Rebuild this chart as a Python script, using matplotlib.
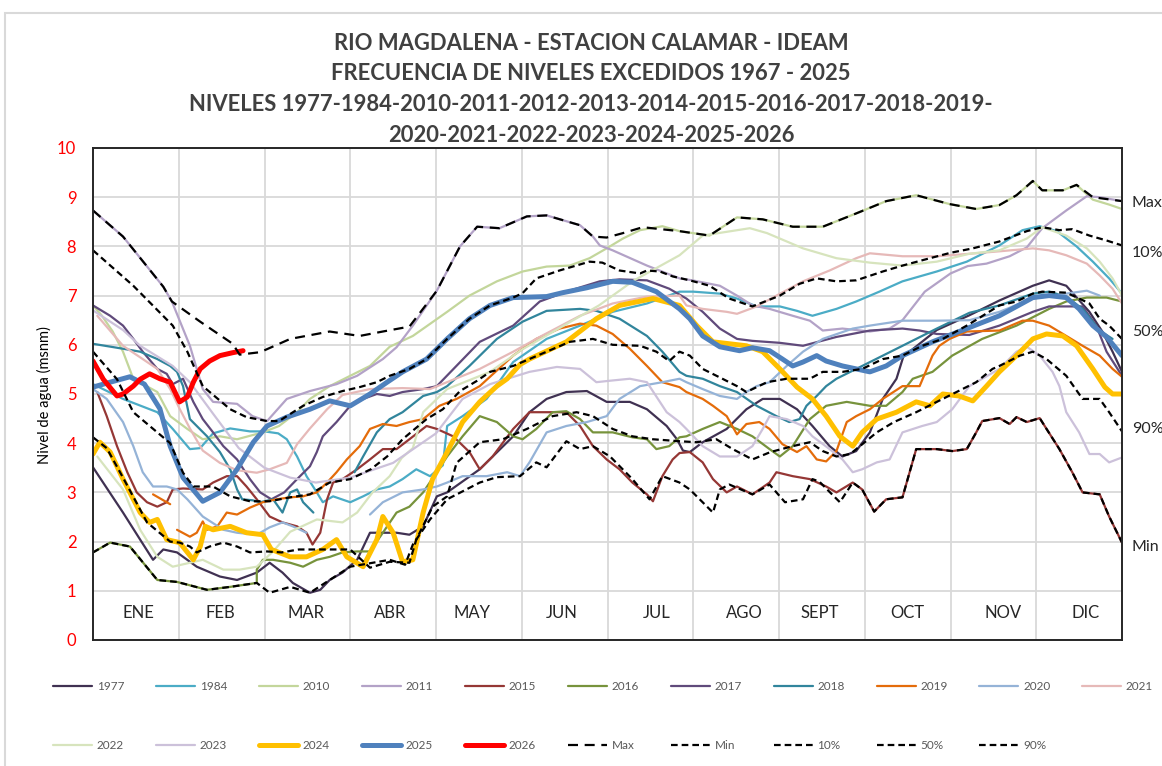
import numpy as np
import matplotlib
matplotlib.use('Agg')
import matplotlib.pyplot as plt
from matplotlib.patches import Rectangle

plt.rcParams['font.family'] = ['Lato', 'DejaVu Sans']

# x = position in months (0 = 1 Jan, 12 = 31 Dec), y = nivel (msnm); None = hueco
s1977 = [(0.0,3.51),(0.35,2.59),(0.55,2.04),(0.70,1.63),(0.82,1.84),(0.98,1.78),(1.21,1.49),(1.48,1.29),
         (1.68,1.22),(1.91,1.37),(2.06,1.57),(2.21,1.37),(2.33,1.16),(2.53,0.96),(2.65,1.02),(2.76,1.22),(2.91,1.37),
         (3.08,1.63),(3.23,2.18),(3.54,2.18),(3.69,2.14),(3.85,2.31),(4.01,2.92),(4.13,3.0),(4.51,3.47),(4.90,4.14),
         (5.09,4.63),(5.29,4.9),(5.52,5.04),(5.76,5.06),(5.99,4.84),(6.26,4.84),(6.46,4.69),(6.69,4.35),(6.81,4.08),
         (6.88,3.85),(6.96,3.82),(7.11,4.02),(7.39,4.29),(7.62,4.69),(7.81,4.9),(8.01,4.9),(8.21,4.69),(8.39,4.35),
         (8.59,3.94),(8.74,3.73),(8.90,3.84),(9.06,4.22),(9.21,4.9),(9.37,5.31),(9.45,5.76),(9.84,6.3),(10.22,6.6),
         (10.57,6.9),(10.96,7.2),(11.15,7.31),(11.35,7.2),(11.62,6.67),(11.77,6.27),(11.89,5.86),(12.0,5.45)]
s1984 = [(0.0,5.2),(0.35,4.9),(0.75,4.63),(0.93,4.29),(1.13,3.88),(1.25,3.9),(1.40,4.2),(1.60,4.3),(1.83,4.24),
         (2.00,4.24),(2.16,4.2),(2.26,4.08),(2.38,3.73),(2.49,3.33),(2.61,3.0),(2.68,2.8),(2.80,2.92),(3.0,2.8),
         (3.15,2.92),(3.31,3.06),(3.46,3.12),(3.61,3.27),(3.77,3.47),(3.93,3.33),(4.08,3.55),(4.13,4.35),(4.31,4.55),
         (4.59,4.9),(4.70,5.16),(4.90,5.65),(5.29,6.12),(5.68,6.39),(6.06,6.67),(6.46,6.84),(6.84,7.08),(7.00,7.08),
         (7.31,7.04),(7.51,6.94),(7.74,6.78),(8.01,6.78),(8.21,6.69),(8.39,6.59),(8.67,6.73),(8.90,6.88),(9.17,7.08),
         (9.44,7.29),(9.84,7.49),(10.19,7.69),(10.57,8.02),(10.84,8.33),(11.04,8.41),(11.24,8.31),(11.47,8.0),
         (11.66,7.69),(11.85,7.35),(12.0,7.04)]
s2010 = [(0.0,6.8),(0.1,6.6),(0.23,6.27),(0.35,5.86),(0.47,5.31),(0.75,5.04),(0.90,4.55),(1.10,4.29),(1.28,4.08),
         (1.48,4.14),(1.68,4.08),(1.98,4.22),(2.17,4.35),(2.38,4.63),(2.53,4.9),(2.76,5.16),(3.0,5.37),(3.23,5.57),
         (3.46,5.96),(3.73,6.18),(4.13,6.67),(4.39,7.0),(4.71,7.29),(5.01,7.49),(5.29,7.59),(5.56,7.61),(5.79,7.76),
         (5.99,7.96),(6.18,8.16),(6.38,8.33),(6.64,8.41),(6.84,8.31),(7.19,8.22),(7.51,8.59),(7.81,8.55),(8.16,8.4),
         (8.51,8.4),(8.90,8.67),(9.25,8.92),(9.60,9.04),(9.99,8.86),(10.30,8.76),(10.57,8.84),(10.77,9.04),
         (10.96,9.33),(11.07,9.14),(11.31,9.14),(11.47,9.25),(11.66,8.95),(11.85,8.85),(12.0,8.76)]
s2011 = [(0.0,8.73),(0.35,8.2),(0.82,7.18),(0.92,6.88),(1.13,5.98),(1.28,5.1),(1.40,4.84),(1.68,4.8),(1.86,4.55),
         (2.03,4.45),(2.26,4.9),(2.53,5.06),(2.84,5.2),(3.08,5.37),(3.38,5.71),(3.54,5.95),(3.73,6.39),(4.01,7.1),
         (4.28,8.0),(4.48,8.4),(4.74,8.37),(5.06,8.61),(5.29,8.63),(5.68,8.43),(5.83,8.2),(5.91,8.02),(6.06,7.92),
         (6.46,7.61),(6.84,7.35),(6.99,7.31),(7.31,7.2),(7.51,7.0),(7.69,6.8),(7.89,6.73),(8.16,6.59),(8.36,6.49),
         (8.51,6.29),(8.74,6.33),(9.06,6.27),(9.29,6.33),(9.44,6.5),(9.7,7.08),(10.0,7.45),(10.2,7.6),(10.42,7.65),
         (10.69,7.8),(10.89,7.98),(11.07,8.37),(11.35,8.73),(11.59,9.02),(11.74,9.0),(12.0,8.92)]
s2015 = [(0.05,5.04),(0.16,4.55),(0.28,3.94),(0.40,3.41),(0.51,3.0),(0.63,2.8),(0.75,2.71),(0.86,2.8),(0.93,3.06),
         (1.05,3.08),(1.28,3.06),(1.40,3.2),(1.56,3.33),(1.68,3.33),(1.79,3.12),(1.91,2.86),(2.06,2.51),(2.21,2.39),
         (2.38,2.31),(2.49,2.18),(2.56,1.94),(2.65,2.18),(2.73,2.86),(2.80,3.2),(2.91,3.27),(3.08,3.47),(3.23,3.67),
         (3.38,3.88),(3.54,3.88),(3.69,4.08),(3.89,4.35),(4.01,4.29),(4.20,4.14),(4.39,3.82),(4.51,3.47),(4.66,3.73),
         (4.90,4.29),(5.09,4.63),(5.29,4.63),(5.52,4.63),(5.68,4.35),(5.83,3.94),(5.99,3.67),(6.14,3.47),(6.29,3.2),
         (6.46,2.96),(6.53,2.82),(6.64,3.33),(6.76,3.67),(6.84,3.8),(6.96,3.82),(7.11,3.61),(7.23,3.27),(7.39,3.0),
         (7.51,3.12),(7.69,2.96),(7.89,3.2),(7.97,3.41),(8.16,3.33),(8.36,3.27),(8.55,3.12),(8.67,3.0),(8.86,3.2),
         (8.97,3.06),(9.11,2.61),(9.25,2.86),(9.44,2.9),(9.60,3.88),(9.84,3.88),(10.02,3.84),(10.19,3.88),
         (10.30,4.22),(10.37,4.45),(10.57,4.51),(10.69,4.39),(10.77,4.53),(10.89,4.43),(11.04,4.51),(11.12,4.29),
         (11.27,3.88),(11.42,3.41),(11.54,3.0),(11.74,2.96),(11.85,2.51),(12.0,1.98)]
s2016 = [(0.0,1.78),(0.20,1.98),(0.43,1.9),(0.75,1.22),(0.98,1.18),(1.33,1.02),(1.60,1.08),(1.91,1.16),(1.91,1.43),
         (1.98,1.63),(2.10,1.63),(2.30,1.57),(2.45,1.49),(2.61,1.63),(2.76,1.69),(2.91,1.78),(3.08,1.8),(3.23,1.8),
         (3.38,2.18),(3.54,2.59),(3.69,2.71),(3.85,3.0),(4.13,3.73),(4.31,4.14),(4.51,4.55),(4.71,4.43),(4.90,4.14),
         (5.01,4.08),(5.17,4.29),(5.36,4.63),(5.52,4.65),(5.68,4.49),(5.83,4.22),(6.06,4.22),(6.29,4.12),(6.46,4.08),
         (6.57,3.88),(6.72,3.94),(6.84,4.12),(6.92,4.14),(7.11,4.29),(7.31,4.43),(7.51,4.29),(7.69,4.14),(7.89,3.88),
         (8.01,3.73),(8.16,3.94),(8.36,4.49),(8.55,4.76),(8.79,4.84),(9.06,4.76),(9.25,4.76),(9.44,5.04),(9.56,5.31),
         (9.79,5.45),(10.02,5.78),(10.37,6.12),(10.77,6.39),(11.15,6.73),(11.35,6.88),(11.59,6.96),(11.82,6.96),
         (12.0,6.88)]
s2017 = [(0.0,6.8),(0.20,6.59),(0.35,6.39),(0.47,6.12),(0.58,5.86),(0.75,5.51),(0.86,5.41),(0.93,5.2),(1.05,5.31),
         (1.17,4.84),(1.28,4.49),(1.40,4.22),(1.52,3.94),(1.68,3.67),(1.83,3.27),(1.95,3.0),(2.08,2.86),(2.23,3.0),
         (2.38,3.27),(2.53,3.53),(2.61,3.82),(2.68,4.14),(2.84,4.43),(3.0,4.76),(3.15,4.9),(3.31,5.0),(3.46,4.96),
         (3.61,5.04),(3.85,5.1),(4.01,5.16),(4.51,6.06),(4.90,6.39),(5.21,6.88),(5.52,7.08),(5.91,7.29),(6.14,7.33),
         (6.46,7.31),(6.72,7.14),(6.92,6.94),(7.11,6.67),(7.31,6.33),(7.51,6.12),(7.69,6.08),(8.01,6.04),(8.28,5.98),
         (8.67,6.16),(9.06,6.29),(9.44,6.33),(9.64,6.29),(9.84,6.22),(10.22,6.2),(10.57,6.39),(10.96,6.67),
         (11.15,6.78),(11.54,6.78),(11.70,6.39),(11.82,5.86),(12.0,5.37)]
s2018 = [(0.0,6.02),(0.35,5.92),(0.55,5.86),(0.75,5.71),(0.90,5.57),(0.98,5.45),(1.05,5.16),(1.13,4.49),(1.33,4.14),
         (1.48,3.82),(1.60,3.47),(1.68,3.06),(1.74,2.86),(1.86,2.84),(1.95,2.8),(2.10,2.86),(2.21,2.59),(2.30,3.0),
         (2.38,3.06),(2.45,2.8),(2.57,2.59), None,
         (3.05,3.41),(3.15,3.73),(3.31,4.22),(3.46,4.49),(3.61,4.63),(3.85,4.96),(4.01,5.04),(4.13,5.16),(4.39,5.57),
         (4.71,6.12),(5.01,6.47),(5.29,6.69),(5.68,6.73),(5.87,6.69),(6.14,6.53),(6.46,6.18),(6.64,5.86),(6.84,5.45),
         (6.92,5.37),(7.11,5.31),(7.31,5.16),(7.51,5.04),(7.74,4.76),(7.97,4.55),(8.12,4.43),(8.24,4.49),(8.32,4.76),
         (8.44,4.96),(8.55,5.16),(8.67,5.31),(8.97,5.57),(9.44,5.98),(9.84,6.33),(10.22,6.65),(10.57,6.8),
         (10.96,7.04),(11.15,7.08),(11.35,6.98),(11.54,6.73),(11.74,6.29),(11.89,6.12)]
s2019 = [(0.70,2.96),(0.90,2.76), None,
         (0.98,2.24),(1.13,2.1),(1.21,2.18),(1.28,2.41),(1.33,2.24),(1.45,2.31),(1.56,2.59),(1.68,2.55),(1.83,2.69),
         (1.98,2.8),(2.14,2.86),(2.30,2.9),(2.45,2.92),(2.61,3.0),(2.73,3.2),(2.84,3.41),(2.96,3.67),(3.11,3.94),
         (3.23,4.29),(3.38,4.39),(3.54,4.35),(3.69,4.43),(3.85,4.49),(4.04,4.76),(4.24,4.9),(4.51,5.16),(4.90,5.78),
         (5.17,6.12),(5.44,6.33),(5.68,6.43),(5.87,6.39),(6.06,6.22),(6.26,5.92),(6.46,5.57),(6.64,5.24),(6.84,5.14),
         (6.92,5.04),(7.11,4.9),(7.23,4.76),(7.39,4.55),(7.51,4.18),(7.62,4.39),(7.77,4.43),(7.89,4.29),(8.04,3.98),
         (8.21,3.82),(8.32,3.94),(8.44,3.67),(8.55,3.63),(8.67,3.84),(8.79,4.43),(8.90,4.55),(9.06,4.69),(9.21,4.9),
         (9.44,5.16),(9.64,5.16),(9.79,5.78),(9.87,5.98),(9.99,6.12),(10.19,6.27),(10.57,6.29),(10.84,6.49),
         (10.96,6.49),(11.15,6.39),(11.35,6.18),(11.54,5.98),(11.74,5.78),(11.89,5.51),(12.0,5.35)]
s2020 = [(0.0,5.1),(0.16,4.9),(0.35,4.43),(0.47,3.94),(0.58,3.41),(0.70,3.12),(0.86,3.12),(0.98,3.06),(1.10,2.86),
         (1.28,2.51),(1.52,2.24),(1.68,2.18),(1.91,2.14),(2.06,2.29),(2.21,2.39),(2.33,2.31),(2.49,2.18), None,
         (3.23,2.55),(3.38,2.8),(3.61,3.0),(3.85,3.06),(4.01,3.12),(4.13,3.2),(4.31,3.33),(4.59,3.33),(4.83,3.41),
         (4.98,3.33),(5.09,3.61),(5.29,4.22),(5.52,4.35),(5.76,4.43),(5.99,4.55),(6.14,4.9),(6.38,5.16),(6.64,5.24),
         (6.84,5.31),(6.92,5.24),(7.11,5.1),(7.31,4.96),(7.51,4.9),(7.62,5.04),(7.74,5.16),(7.89,5.24),(8.09,5.57),
         (8.28,5.86),(8.51,6.12),(8.86,6.33),(9.06,6.39),(9.44,6.49),(9.84,6.49),(10.22,6.5),(10.57,6.67),
         (10.96,6.94),(11.35,7.04),(11.59,7.1),(11.74,7.0)]
s2021 = [(0.05,6.59),(0.35,5.98),(0.58,5.71),(0.75,5.51),(0.90,5.1),(1.01,4.7),(1.13,4.3),(1.28,3.85),(1.48,3.6),
         (1.68,3.45),(1.91,3.4),(2.06,3.47),(2.26,3.6),(2.38,3.98),(2.53,4.3),(2.73,4.69),(2.91,4.98),(3.23,5.1),
         (3.61,5.12),(3.93,5.1),(4.51,5.51),(4.90,5.86),(5.21,6.16),(5.68,6.59),(6.06,6.84),(6.46,6.98),(6.84,7.0),
         (6.92,6.8),(7.11,6.73),(7.39,6.67),(7.51,6.63),(7.74,6.78),(7.97,7.0),(8.28,7.29),(8.59,7.51),(8.90,7.76),
         (9.06,7.86),(9.44,7.8),(9.84,7.8),(10.22,7.85),(10.57,7.9),(10.96,7.96),(11.15,7.92),(11.35,7.82),
         (11.59,7.65),(11.74,7.41),(11.89,7.14),(12.0,6.84)]
s2022 = [(0.05,3.73),(0.35,3.06),(0.55,2.24),(0.75,1.69),(0.93,1.49),(1.13,1.57),(1.28,1.63),(1.52,1.43),(1.71,1.43),
         (1.91,1.49),(2.1,1.8),(2.3,2.2),(2.61,2.45),(2.91,2.39),(3.08,2.59),(3.26,3.0),(3.46,3.33),(3.6,3.7),
         (3.73,3.9),(3.85,4.63),(4.01,4.9),(4.13,5.1),(4.63,5.45),(5.0,5.9),(5.5,6.4),(5.9,6.8),(6.3,7.3),(6.84,7.82),
         (7.11,8.22),(7.66,8.37),(7.86,8.27),(8.28,7.96),(8.67,7.76),(9.06,7.67),(9.44,7.61),(9.84,7.69),(10.22,7.85),
         (10.57,7.92),(10.89,8.16),(11.07,8.39),(11.35,8.22),(11.59,7.96),(11.74,7.69),(11.89,7.35),(12.0,7.0)]
s2023 = [(0.0,6.7),(0.35,6.3),(0.55,5.98),(0.93,5.57),(1.13,5.24),(1.4,4.6),(1.7,3.9),(2.0,3.5),(2.3,3.3),(2.6,3.2),
         (3.0,3.3),(3.5,3.6),(4.0,4.2),(4.31,4.9),(4.63,5.2),(5.09,5.45),(5.41,5.55),(5.68,5.51),(5.87,5.24),
         (6.03,5.27),(6.26,5.31),(6.46,5.24),(6.69,4.63),(6.84,4.43),(6.92,4.29),(7.11,3.94),(7.31,3.73),(7.51,3.73),
         (7.69,3.94),(7.81,4.29),(7.89,4.55),(8.09,4.49),(8.28,4.35),(8.39,4.14),(8.59,3.88),(8.74,3.67),(8.86,3.41),
         (8.97,3.47),(9.14,3.61),(9.29,3.67),(9.44,4.22),(9.67,4.35),(9.84,4.43),(10.02,4.69),(10.22,5.16),
         (10.57,5.51),(10.77,5.86),(10.89,5.96),(11.04,5.78),(11.19,5.45),(11.27,5.16),(11.35,4.63),(11.50,4.22),
         (11.62,3.78),(11.74,3.78),(11.85,3.61),(12.0,3.71)]
s2024 = [(0.0,3.78),(0.08,4.02),(0.20,3.82),(0.35,3.27),(0.55,2.59),(0.66,2.39),(0.75,2.45),(0.86,2.04),(1.01,1.98),
         (1.17,1.63),(1.25,1.9),(1.31,2.31),(1.40,2.24),(1.60,2.31),(1.79,2.18),(1.98,2.14),(2.08,1.84),(2.30,1.69),
         (2.49,1.69),(2.68,1.84),(2.84,2.04),(2.96,1.69),(3.15,1.49),(3.31,2.04),(3.38,2.51),(3.50,2.18),(3.61,1.59),
         (3.73,1.63),(3.85,2.59),(3.96,3.27),(4.13,3.82),(4.31,4.43),(4.51,4.84),(4.71,5.16),(4.83,5.31),(4.98,5.6),
         (5.09,5.71),(5.52,6.06),(5.87,6.53),(6.14,6.8),(6.53,6.94),(6.84,6.8),(7.04,6.39),(7.23,6.06),(7.62,5.98),
         (7.81,5.86),(8.01,5.51),(8.21,5.14),(8.39,4.9),(8.55,4.55),(8.71,4.14),(8.86,3.94),(8.97,4.22),(9.14,4.49),
         (9.37,4.63),(9.6,4.84),(9.76,4.76),(9.91,5.0),(10.1,4.96),(10.26,4.86),(10.42,5.16),(10.57,5.45),
         (10.77,5.78),(10.96,6.12),(11.12,6.22),(11.31,6.18),(11.47,5.98),(11.66,5.51),(11.8,5.14),(11.89,5.0),
         (12.0,5.0)]
s2025 = [(0.0,5.14),(0.20,5.24),(0.43,5.35),(0.60,5.2),(0.78,4.7),(0.90,3.94),(1.05,3.3),(1.28,2.82),(1.48,3.0),
         (1.68,3.47),(1.87,4.02),(2.03,4.35),(2.26,4.53),(2.53,4.69),(2.76,4.86),(3.0,4.76),(3.23,5.0),(3.43,5.24),
         (3.61,5.45),(3.89,5.71),(4.13,6.12),(4.39,6.53),(4.63,6.8),(4.90,6.96),(5.29,6.98),(5.48,7.06),(5.76,7.16),
         (6.06,7.29),(6.29,7.27),(6.57,7.08),(6.84,6.73),(6.96,6.53),(7.11,6.18),(7.31,5.96),(7.54,5.88),(7.69,5.94),
         (7.89,5.88),(8.04,5.71),(8.16,5.57),(8.28,5.65),(8.44,5.78),(8.55,5.67),(8.74,5.57),(8.90,5.51),(9.06,5.45),
         (9.25,5.57),(9.44,5.78),(9.79,6.06),(10.19,6.33),(10.57,6.59),(10.96,6.96),(11.15,7.0),(11.35,6.96),
         (11.50,6.73),(11.66,6.39),(11.82,6.16),(12.0,5.78)]
s2026 = [(0.0,5.67),(0.12,5.3),(0.28,4.96),(0.35,5.0),(0.47,5.16),(0.55,5.3),(0.66,5.41),(0.78,5.31),(0.90,5.24),
         (1.01,4.84),(1.10,4.94),(1.17,5.24),(1.25,5.51),(1.36,5.67),(1.48,5.78),(1.63,5.84),(1.75,5.88)]
smax = [(0.0,8.73),(0.35,8.2),(0.82,7.18),(0.92,6.88),(1.25,6.47),(1.63,6.02),(1.71,5.8),(1.95,5.85),(2.30,6.12),
        (2.76,6.27),(3.11,6.18),(3.38,6.27),(3.69,6.37),(4.01,7.1),(4.28,8.0),(4.48,8.4),(4.74,8.37),(5.06,8.61),
        (5.29,8.63),(5.68,8.43),(5.83,8.2),(5.99,8.18),(6.18,8.27),(6.41,8.39),(6.84,8.31),(7.19,8.22),(7.51,8.59),
        (7.81,8.55),(8.16,8.4),(8.51,8.4),(8.90,8.67),(9.25,8.92),(9.60,9.04),(9.99,8.86),(10.30,8.76),(10.57,8.84),
        (10.77,9.04),(10.96,9.33),(11.07,9.14),(11.31,9.14),(11.47,9.25),(11.66,9.0),(12.0,8.92)]
smin = [(0.0,1.78),(0.20,1.98),(0.43,1.9),(0.75,1.22),(0.98,1.18),(1.33,1.02),(1.60,1.08),(1.91,1.16),(2.06,0.96),
        (2.30,1.08),(2.53,0.96),(2.76,1.22),(3.0,1.49),(3.46,1.63),(3.64,1.53),(3.73,1.94),(3.93,2.45),(4.13,2.86),
        (4.51,3.2),(4.71,3.31),(4.98,3.33),(5.17,3.61),(5.29,3.51),(5.52,4.04),(5.68,3.88),(5.83,3.94),(6.03,3.73),
        (6.29,3.27),(6.49,2.86),(6.64,3.33),(6.84,3.2),(6.96,3.06),(7.23,2.59),(7.31,3.06),(7.42,3.16),(7.69,2.96),
        (7.89,3.16),(8.07,2.8),(8.28,2.86),(8.39,3.27),(8.47,3.22),(8.71,2.8),(8.86,3.2),(8.97,3.06),(9.11,2.61),
        (9.25,2.86),(9.44,2.9),(9.60,3.88),(9.84,3.88),(10.02,3.84),(10.19,3.88),(10.30,4.22),(10.37,4.45),
        (10.57,4.51),(10.69,4.39),(10.77,4.53),(10.89,4.43),(11.04,4.51),(11.12,4.29),(11.27,3.88),(11.42,3.41),
        (11.54,3.0),(11.74,2.96),(11.85,2.51),(12.0,1.98)]
s10 = [(0.0,7.92),(0.47,7.2),(0.93,6.39),(1.10,5.86),(1.28,5.16),(1.60,4.69),(1.79,4.53),(2.03,4.45),(2.17,4.45),
       (2.45,4.76),(2.68,4.94),(2.91,5.06),(3.11,5.14),(3.31,5.24),(3.46,5.37),(3.69,5.51),(3.89,5.71),(4.13,6.12),
       (4.39,6.53),(4.63,6.8),(4.90,6.96),(5.01,7.05),(5.17,7.35),(5.44,7.51),(5.79,7.69),(5.94,7.67),(6.14,7.51),
       (6.38,7.45),(6.46,7.51),(6.61,7.49),(6.76,7.39),(6.96,7.31),(7.19,7.2),(7.42,6.94),(7.69,6.78),(8.01,7.0),
       (8.24,7.24),(8.44,7.35),(8.67,7.29),(8.90,7.31),(9.21,7.49),(9.44,7.61),(9.76,7.76),(10.0,7.87),(10.26,7.96),
       (10.57,8.1),(10.89,8.31),(11.07,8.39),(11.27,8.33),(11.42,8.35),(11.62,8.22),(11.82,8.12),(12.0,8.02)]
s50 = [(0.0,5.86),(0.28,5.3),(0.47,4.63),(0.90,4.0),(1.05,3.4),(1.17,3.12),(1.40,3.12),(1.60,2.92),(1.83,2.82),
       (2.06,2.82),(2.30,2.9),(2.53,2.96),(2.76,3.2),(3.0,3.27),(3.24,3.47),(3.43,3.73),(3.61,4.08),(3.89,4.49),
       (4.08,4.69),(4.28,5.06),(4.48,5.27),(4.63,5.45),(4.90,5.57),(5.29,5.86),(5.56,6.06),(5.83,6.12),(6.06,6.0),
       (6.38,5.98),(6.57,5.86),(6.72,5.67),(6.84,5.86),(6.96,5.78),(7.11,5.51),(7.34,5.31),(7.51,5.16),(7.62,5.04),
       (7.86,5.24),(8.09,5.31),(8.36,5.31),(8.51,5.45),(8.74,5.45),(8.97,5.51),(9.21,5.71),(9.44,5.78),(9.67,5.98),
       (9.91,6.12),(10.2,6.4),(10.57,6.8),(10.77,6.88),(10.96,7.04),(11.07,7.08),(11.35,7.06),(11.50,6.94),
       (11.62,6.84),(11.74,6.53),(11.85,6.39),(12.0,6.12)]
s90 = [(0.0,4.12),(0.16,3.9),(0.35,3.3),(0.63,2.39),(0.9,2.0),(1.01,1.98),(1.13,1.9),(1.21,1.78),(1.36,1.9),
       (1.52,1.98),(1.68,1.9),(1.83,1.78),(2.03,1.8),(2.2,1.78),(2.4,1.84),(2.65,1.84),(2.91,1.84),(3.0,1.84),
       (3.23,1.47),(3.46,1.59),(3.69,1.57),(3.77,2.04),(3.96,2.71),(4.13,2.92),(4.24,3.6),(4.51,4.02),(4.78,4.08),
       (5.06,4.29),(5.36,4.55),(5.64,4.63),(5.83,4.55),(6.06,4.29),(6.29,4.14),(6.53,4.08),(6.84,4.04),(7.04,4.02),
       (7.27,4.08),(7.46,3.88),(7.69,3.67),(7.9,3.82),(8.16,3.94),(8.36,4.02),(8.51,3.84),(8.67,3.73),(8.83,3.78),
       (9.0,4.02),(9.14,4.22),(9.34,4.43),(9.6,4.63),(9.84,4.84),(10.07,5.04),(10.3,5.24),(10.49,5.51),(10.57,5.57),
       (10.81,5.78),(10.96,5.86),(11.12,5.71),(11.35,5.37),(11.54,4.9),(11.74,4.9),(11.85,4.63),(12.0,4.24)]

meses = ['ENE', 'FEB', 'MAR', 'ABR', 'MAY', 'JUN', 'JUL', 'AGO', 'SEPT', 'OCT', 'NOV', 'DIC']
mes_pos = [0.53, 1.49, 2.48, 3.46, 4.42, 5.47, 6.57, 7.59, 8.48, 9.5, 10.61, 11.58]

series = [
    ('1977', s1977, '#403152', 1.6, '-'),
    ('1984', s1984, '#4BACC6', 1.6, '-'),
    ('2010', s2010, '#C3D69B', 1.6, '-'),
    ('2011', s2011, '#B3A2C7', 1.6, '-'),
    ('2015', s2015, '#953735', 1.6, '-'),
    ('2016', s2016, '#77933C', 1.6, '-'),
    ('2017', s2017, '#604A7B', 1.6, '-'),
    ('2018', s2018, '#31859C', 1.6, '-'),
    ('2019', s2019, '#E46C0A', 1.6, '-'),
    ('2020', s2020, '#95B3D7', 1.6, '-'),
    ('2021', s2021, '#E6B9B8', 1.6, '-'),
    ('2022', s2022, '#D7E4BD', 1.6, '-'),
    ('2023', s2023, '#CCC1DA', 1.6, '-'),
    ('2024', s2024, '#FFC000', 3.6, '-'),
    ('2025', s2025, '#4F81BD', 3.6, '-'),
    ('2026', s2026, '#FF0000', 3.6, '-'),
    ('Max', smax, 'black', 1.6, (0, (4.5, 3))),
    ('Min', smin, 'black', 1.6, (0, (3, 1.8))),
    ('10%', s10, 'black', 1.6, (0, (3, 1.8))),
    ('50%', s50, 'black', 1.6, (0, (3, 1.8))),
    ('90%', s90, 'black', 1.6, (0, (3, 1.8))),
]

# etiquetas a la derecha: (texto, nivel donde va la etiqueta)
etiquetas = [('Max', 8.88), ('10%', 7.86), ('50%', 6.27), ('90%', 4.29), ('Min', 1.9)]


def xy(pts):
    xs = [np.nan if p is None else p[0] for p in pts]
    ys = [np.nan if p is None else p[1] for p in pts]
    return xs, ys


fig = plt.figure(figsize=(11.62, 7.66), dpi=100)
ax = fig.add_axes([93 / 1162, 1 - 640 / 766, (1122 - 93) / 1162, (640 - 148) / 766])

handles = []
for name, pts, col, lw, ls in series:
    xs, ys = xy(pts)
    ln, = ax.plot(xs, ys, color=col, lw=lw, ls=ls, solid_capstyle='round', label=name)
    handles.append(ln)

ax.set_xlim(0, 12)
ax.set_ylim(0, 10)
ax.set_xticks(range(1, 12))
ax.set_xticklabels([])
ax.set_yticks(range(0, 11))
ax.tick_params(axis='both', length=0)
ax.tick_params(axis='y', colors='red', labelsize=12, pad=12)
ax.grid(True, color='#d9d9d9', lw=1.3)
ax.set_axisbelow(True)
for sp in ax.spines.values():
    sp.set_color('#262626')
    sp.set_linewidth(1.4)

for m, p in zip(meses, mes_pos):
    ax.text(p, 0.55, m, ha='center', va='center', fontsize=12, color='#262626')

for name, yv in etiquetas:
    ax.annotate(name, xy=(12, yv), xytext=(7, 0), textcoords='offset points',
                ha='left', va='center', fontsize=11.5, color='#262626', annotation_clip=False)

fig.text(44 / 1162, 1 - 395 / 766, 'Nivel de agua (msnm)', rotation=90, ha='center', va='center',
         fontsize=10.5, color='black')

titulo = ['RIO MAGDALENA - ESTACION CALAMAR - IDEAM',
          'FRECUENCIA DE NIVELES EXCEDIDOS 1967 - 2025',
          'NIVELES 1977-1984-2010-2011-2012-2013-2014-2015-2016-2017-2018-2019-',
          '2020-2021-2022-2023-2024-2025-2026']
for i, t in enumerate(titulo):
    fig.text(591 / 1162, 1 - (43 + 30.7 * i) / 766, t, ha='center', va='center', fontsize=15.8,
             fontweight='bold', color='#404040')

# borde del area del grafico
fig.patches.append(Rectangle((5 / 1162, -0.05), 1.2, 1.05 - 13 / 766, transform=fig.transFigure,
                             fill=False, edgecolor='#d9d9d9', lw=1.5))

# leyenda en dos filas (orden por filas)
nc = 11
row1 = handles[:nc]
row2 = handles[nc:]
order = []
for j in range(nc):
    order.append(row1[j])
    if j < len(row2):
        order.append(row2[j])
leg = fig.legend(order, [h.get_label() for h in order], ncol=nc, loc='upper left',
                 bbox_to_anchor=(53 / 1162, 1 - 681 / 766), frameon=False, fontsize=8.5,
                 handlelength=3.3, handletextpad=0.4, columnspacing=2.7, labelspacing=4.07,
                 borderaxespad=0, borderpad=0)
for t in leg.get_texts():
    t.set_color('#595959')

fig.savefig('out.png', dpi=100)
